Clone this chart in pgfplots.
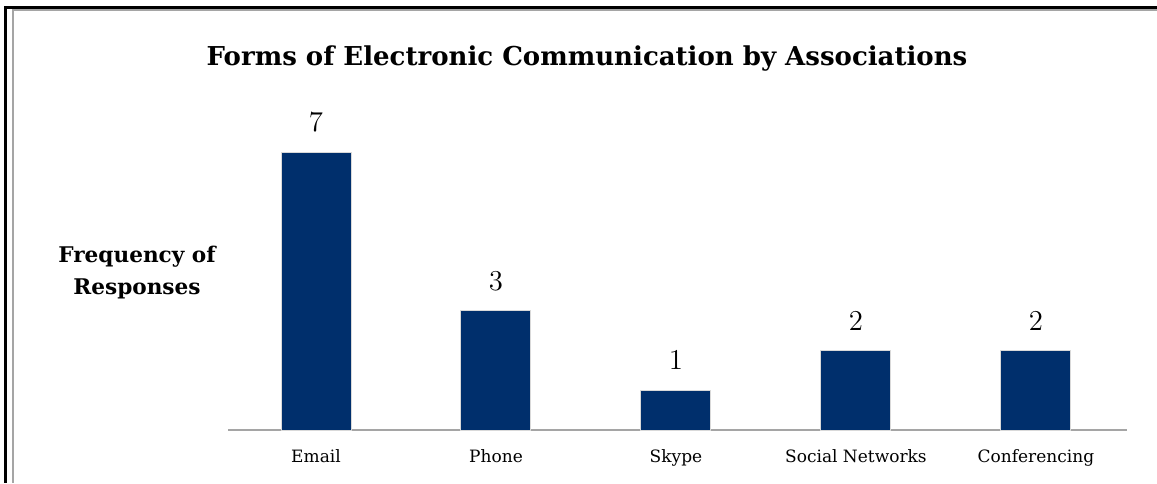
\documentclass[border=0pt]{standalone}
\usepackage{pgfplots}
\pgfplotsset{compat=1.18}
\usepackage{fontspec}
\setmainfont{DejaVu Serif}
\definecolor{barblue}{RGB}{0,47,108}
\definecolor{axgray}{RGB}{165,165,165}
\begin{document}
\begin{tikzpicture}[x=0.5pt,y=0.5pt]
\path[use as bounding box] (0,0) rectangle (1157,483);
% frame
\fill[black] (4,0) rectangle (7,477);
\fill[black] (4,474) rectangle (1157,477);
\draw[axgray,line width=1pt] (13,0) -- (13,473) -- (1157,473);
% title
\node[font=\bfseries\fontsize{13}{16}\selectfont] at (587,424) {Forms of Electronic Communication by Associations};
% y label
\node[font=\bfseries\fontsize{10.8}{16}\selectfont,align=center] at (137,210) {Frequency of\\Responses};
\begin{axis}[
  at={(228*0.5pt,53*0.5pt)}, anchor=south west,
  scale only axis, width=449.5pt, height=148.875pt,
  xmin=-0.489, xmax=4.506, ymin=0, ymax=7.5,
  axis y line=none, axis x line*=bottom,
  x axis line style={axgray,line width=1pt,-},
  xtick={0,1,2,3,4}, major tick length=0pt,
  xticklabels={Email,Phone,Skype,Social Networks,Conferencing},
  xticklabel style={font=\fontsize{8.5}{10}\selectfont, inner sep=0pt, anchor=north, yshift=-9.5pt},
  ybar, bar width=35pt,
  nodes near coords,
  every node near coord/.append style={font=\fontsize{13.5}{14}\selectfont, inner sep=0pt, anchor=south, yshift=10pt},
  clip=false,
]
\addplot[fill=barblue, draw=black!15, line width=0.5pt] coordinates {(0,7) (1,3) (2,1) (3,2) (4,2)};
\end{axis}
\end{tikzpicture}
\end{document}
